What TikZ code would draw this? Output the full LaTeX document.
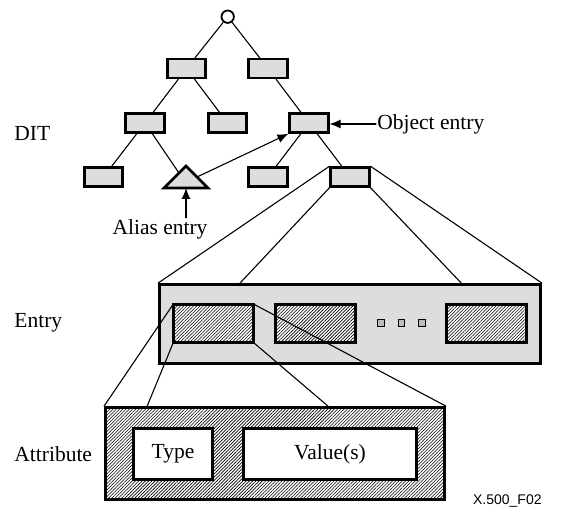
\documentclass[tikz,border=0pt]{standalone}
\usepackage{fontspec}
\setmainfont{Liberation Serif}
\setsansfont{Liberation Sans}
\usetikzlibrary{arrows.meta,patterns.meta,calc}
\definecolor{boxgray}{RGB}{221,221,221}

\begin{document}
\begin{tikzpicture}[x=0.5pt,y=-0.5pt,line cap=round,
        >={Latex[length=5.5pt,width=4.5pt]},
        lbl/.style={inner sep=0.5pt,font=\fontsize{10.75}{13}\selectfont},
        dirbox/.style={draw,line width=1.35pt,fill=boxgray,inner sep=0pt,
            minimum width=19.2pt,minimum height=9.4pt},
        hatchbox/.style={draw,line width=1.4pt,inner sep=0pt,preaction={fill=white},
            pattern={Lines[angle=45,distance=1.15pt,line width=0.3pt]}},
        plainbox/.style={draw,line width=1.4pt,fill=white,inner sep=0pt},
        link/.style={line width=0.55pt}]
    \useasboundingbox (0,0) rectangle (564,519);

    % the DIT
    \node[draw,circle,line width=0.9pt,fill=white,inner sep=0pt,minimum size=6.2pt] (root) at (227.7,16.7) {};
    \node[dirbox] (l1a) at (186.5,68.5) {};
    \node[dirbox] (l1b) at (268,68.5) {};
    \node[dirbox] (l2a) at (145,123) {};
    \node[dirbox] (l2b) at (227.5,123) {};
    \node[dirbox] (l2c) at (309,123) {};
    \node[dirbox] (l3a) at (103.5,177) {};
    \node[dirbox] (l3c) at (268,177) {};
    \node[dirbox] (l3d) at (350,177) {};

    %alias
    \coordinate (tritop) at (186,166);
    \coordinate (tribase) at (186,188);
    \coordinate (triL) at (179,173);
    \coordinate (triR) at (197,177);
    \draw[line width=1.4pt,fill=boxgray,line join=miter] (164,188) -- (tritop) -- (208,188) -- cycle;

    % tree edges
    \draw[link] (root) -- (l1a);
    \draw[link] (root) -- (l1b);
    \draw[link] (l1a) -- (l2a);
    \draw[link] (l1a) -- (l2b);
    \draw[link] (l1b) -- (l2c);
    \draw[link] (l2a) -- (l3a);
    \draw[link] (l2a) -- (triL);
    \draw[link] (l2c) -- (l3c);
    \draw[link] (l2c) -- (l3d);

    % pointers
    \draw[link,->] (triR) -- (l2c.south west);
    \node[lbl,anchor=west] (objtxt) at (376,124) {Object entry};
    \draw[link,->] (objtxt.west) -- (objtxt.west -| l2c.east);
    \node[lbl] (aliastxt) at (160,229) {Alias entry};
    \draw[link,->] (aliastxt.north -| tribase) -- (tribase);

    % the entry
    \node[draw,line width=1.4pt,fill=boxgray,inner sep=0pt,minimum width=190.5pt,minimum height=39.5pt] (entry) at (350,324) {};
    \node[hatchbox,minimum width=40pt,minimum height=19pt] (attA) at (213.5,323.5) {};
    \node[hatchbox,minimum width=40pt,minimum height=19pt] (attB) at (315.5,323.5) {};
    \node[hatchbox,minimum width=40pt,minimum height=19pt] (attC) at (486.5,323.5) {};
    \foreach \x/\n in {381/1,401.5/2,422/3}
        \node[draw,fill=boxgray!85!black,line width=0.5pt,inner sep=0pt,minimum size=3.3pt] (dot\n) at (\x,323) {};

    \draw[link] (l3d.north west) -- (entry.north west);
    \draw[link] (l3d.south west) -- ($(entry.north west)!0.2135!(entry.north east)$);
    \draw[link] (l3d.south east) -- ($(entry.north west)!0.79!(entry.north east)$);
    \draw[link] (l3d.north east) -- (entry.north east);

    % the attribute
    \node[hatchbox,minimum width=169.5pt,minimum height=46pt] (attr) at (275,453.5) {};
    \node[plainbox,minimum width=39.5pt,minimum height=25.8pt] (type) at (173,454) {};
    \node[plainbox,minimum width=86.5pt,minimum height=25.8pt] (vals) at (330,454) {};
    \node[lbl] at (type) {Type};
    \node[lbl] at (vals) {Value(s)};

    \draw[link] (attA.north west) -- (attr.north west);
    \draw[link] (attA.south west) -- ($(attr.north west)!0.126!(attr.north east)$);
    \draw[link] (attA.south east) -- ($(attr.north west)!0.655!(attr.north east)$);
    \draw[link] (attA.north east) -- (attr.north east);

    % text at the left
    \node[lbl,anchor=west] (dit) at (13,133) {DIT};
    \node[lbl,anchor=west] (entrytxt) at (13,323) {Entry};
    \node[lbl,anchor=west] (attrtxt) at (13,454) {Attribute};
    \node[inner sep=0pt,anchor=east,font=\sffamily\fontsize{7}{8}\selectfont] (fig) at (542,501) {X.500\_F02};
\end{tikzpicture}
\end{document}
